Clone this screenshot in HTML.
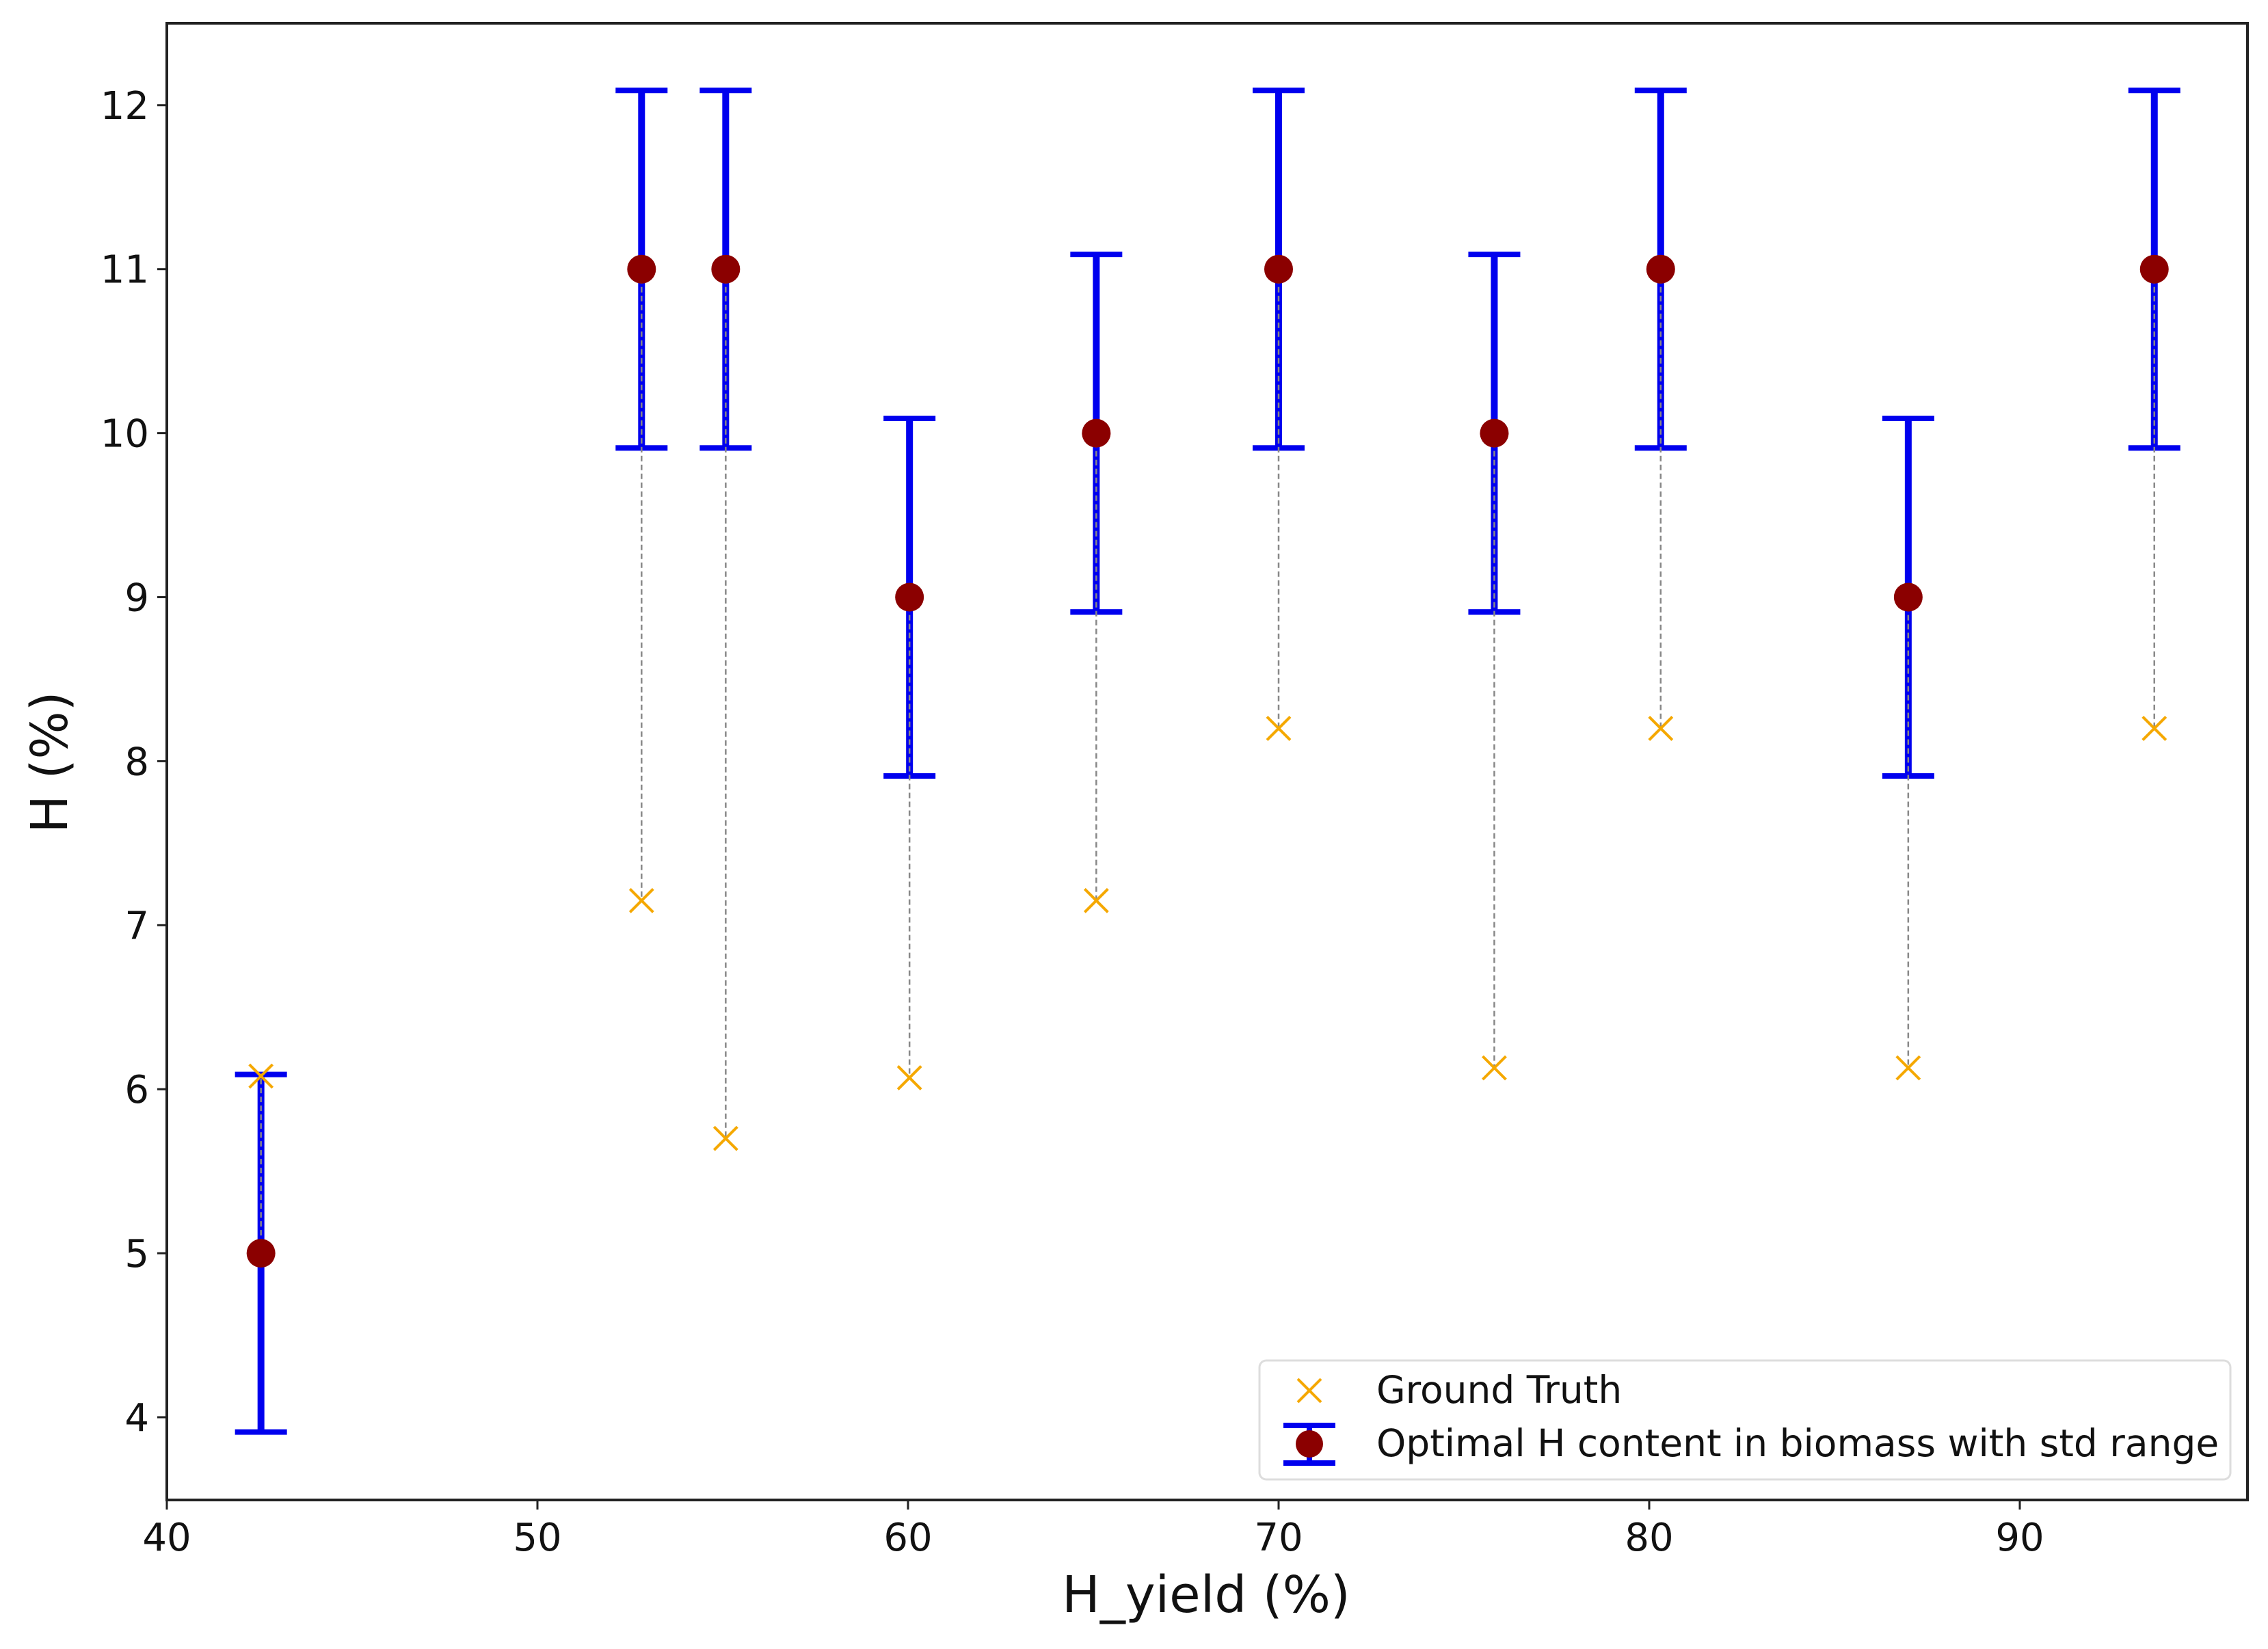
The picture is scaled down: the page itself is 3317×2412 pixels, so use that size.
<!DOCTYPE html>
<html><head><meta charset="utf-8"><style>
html,body{margin:0;padding:0;background:#fff}
svg{display:block;font-family:"DejaVu Sans","Liberation Sans",sans-serif}
</style></head><body>
<svg id="chart" width="3317" height="2412" viewBox="0 0 3317 2412">
<rect width="3317" height="2412" fill="#fff"/>
<g id="marks"></g>
<rect x="244" y="34" width="3043" height="2160" fill="none" stroke="#222" stroke-width="4"/>
<g id="ticks"></g>
<text x="1764" y="2358" font-size="74" text-anchor="middle" fill="#111">H_yield (%)</text>
<text x="0" y="0" font-size="74" text-anchor="middle" fill="#111" transform="translate(98,1115) rotate(-90)">H (%)</text>
<g>
<rect x="1842" y="1990" width="1420" height="174" rx="10" fill="#fff" stroke="#ddd" stroke-width="3"/>
<g>
<path d="M1898,2017 L1932,2051 M1932,2017 L1898,2051" stroke="#f5a800" stroke-width="4"/>
<text x="2013" y="2052" font-size="55" fill="#111">Ground Truth</text>
</g>
<g>
<line x1="1915" y1="2085" x2="1915" y2="2140" stroke="#0000ee" stroke-width="8"/>
<line x1="1877" y1="2085" x2="1953" y2="2085" stroke="#0000ee" stroke-width="8"/>
<line x1="1877" y1="2140" x2="1953" y2="2140" stroke="#0000ee" stroke-width="8"/>
<circle cx="1915" cy="2112" r="20" fill="#8b0000"/>
<text x="2013" y="2130" font-size="55" fill="#111">Optimal H content in biomass with std range</text>
</g>
</g>
</svg>
<script>
const xValues=[42.54,52.81,55.08,60.04,65.08,70.0,75.82,80.31,86.99,93.63];
const meanValues=[5,11,11,9,10,11,10,11,9,11];
const stdValues=[1.09,1.09,1.09,1.09,1.09,1.09,1.09,1.09,1.09,1.09];
const truthValues=[6.08,7.15,5.7,6.07,7.15,8.2,6.13,8.2,6.13,8.2];
const xTicks=[40,50,60,70,80,90];
const yTicks=[4,5,6,7,8,9,10,11,12];
const NS="http://www.w3.org/2000/svg";
function sx(v){return 244+(v-40)*54.2;}
function sy(v){return 2073-(v-4)*239.9;}
function mk(tag,attrs,parent){const e=document.createElementNS(NS,tag);for(const k in attrs)e.setAttribute(k,attrs[k]);parent.appendChild(e);return e;}
const marks=document.getElementById('marks');
const ticks=document.getElementById('ticks');
xValues.forEach((x,i)=>{
  const X=sx(x);
  const g=mk('g',{},marks);
  
  
  const lo=meanValues[i]-stdValues[i],hi=meanValues[i]+stdValues[i];
  const e=mk('line',{x1:X,x2:X,y1:sy(lo),y2:sy(hi),stroke:'#0000ee','stroke-width':10},g);
  
  
  [lo,hi].forEach(v=>{
    const c=mk('line',{x1:X-38,x2:X+38,y1:sy(v),y2:sy(v),stroke:'#0000ee','stroke-width':8},g);
    
    
  });
  const d=mk('line',{x1:X,x2:X,y1:sy(meanValues[i]),y2:sy(truthValues[i]),stroke:'#888','stroke-width':2.5,'stroke-dasharray':'8,5'},g);
  
  
  const t=mk('path',{d:`M${X-17},${sy(truthValues[i])-17} L${X+17},${sy(truthValues[i])+17} M${X+17},${sy(truthValues[i])-17} L${X-17},${sy(truthValues[i])+17}`,stroke:'#f5a800','stroke-width':4},g);
  
  
  const m=mk('circle',{cx:X,cy:sy(meanValues[i]),r:21,fill:'#8b0000'},g);
  
  
});
xTicks.forEach(v=>{
  const X=sx(v);
  const l=mk('line',{x1:X,x2:X,y1:2194,y2:2208,stroke:'#222','stroke-width':3},ticks);
  
  
  const t=mk('text',{x:X,y:2268,'font-size':56,'text-anchor':'middle',fill:'#111'},ticks);
  t.textContent=v;
  
  
});
yTicks.forEach(v=>{
  const Y=sy(v);
  const l=mk('line',{x1:230,x2:244,y1:Y,y2:Y,stroke:'#222','stroke-width':3},ticks);
  
  
  const t=mk('text',{x:218,y:Y+20,'font-size':56,'text-anchor':'end',fill:'#111'},ticks);
  t.textContent=v;
  
  
});
</script>
</body></html>
